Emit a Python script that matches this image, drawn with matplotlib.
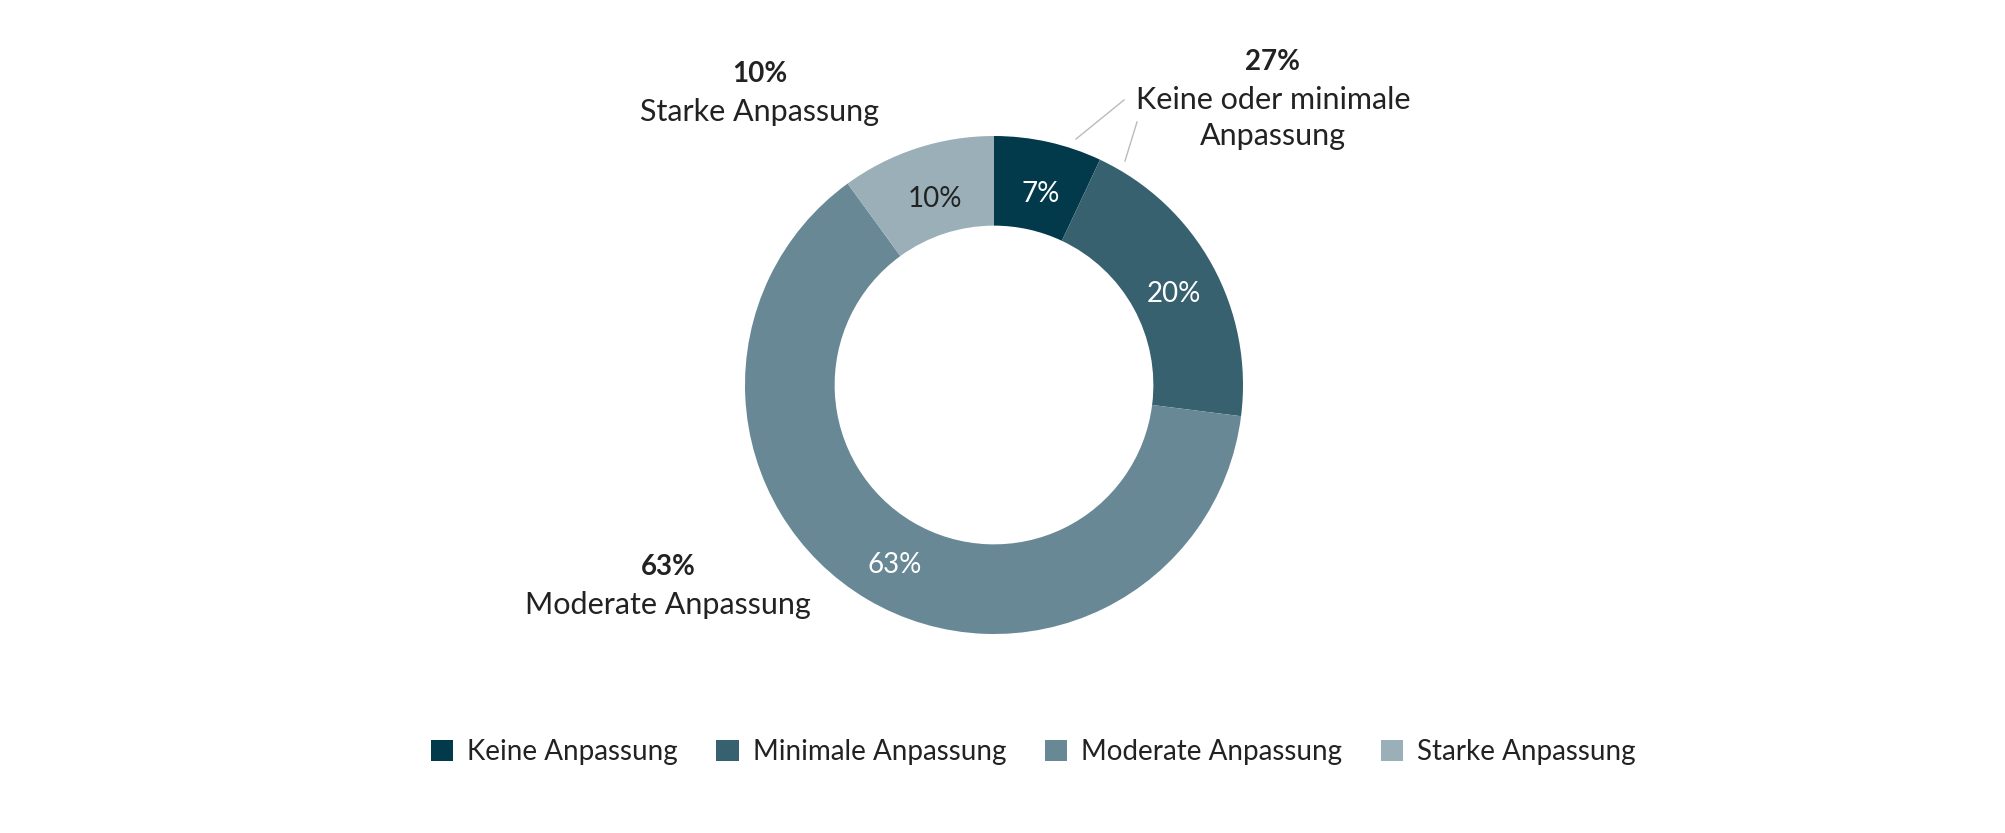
import matplotlib
matplotlib.use("Agg")
import matplotlib.pyplot as plt
from matplotlib.patches import Patch

# data
categories = ["Keine Anpassung", "Minimale Anpassung", "Moderate Anpassung", "Starke Anpassung"]
values = [7, 20, 63, 10]
colors = ["#023a4c", "#37616f", "#678894", "#9aafb7"]
pct_colors = ["white", "white", "white", "#222222"]

# grouped callouts outside the ring
callouts = [
    ("27%", "Keine oder minimale\nAnpassung"),
    ("10%", "Starke Anpassung"),
    ("63%", "Moderate Anpassung"),
]

W, H = 2006, 833
plt.rcParams['font.family'] = ['Lato', 'DejaVu Sans']

fig = plt.figure(figsize=(W / 100, H / 100), dpi=100)
ax = fig.add_axes([0, 0, 1, 1])

cx, cy, R = 994, H - 385, 249
wedges, texts, autotexts = ax.pie(
    values, colors=colors, startangle=90, counterclock=False,
    center=(cx, cy), radius=R, frame=True,
    wedgeprops=dict(width=R * 0.36, linewidth=0),
    autopct=lambda p: f"{p:.0f}%", pctdistance=0.81,
    textprops=dict(fontsize=20),
)
for t, c in zip(autotexts, pct_colors):
    t.set_color(c)
    x, y = t.get_position()
    t.set_position((x + 3, y - 6))
ax.set_xlim(0, W)
ax.set_ylim(0, H)
ax.set_aspect("equal")
ax.axis("off")

# callout labels (position in pixel coords, y from top)
callout_pos = [(1273, 62), (760, 74), (668, 567)]
for (pct, name), (x, y) in zip(callouts, callout_pos):
    ax.text(x, H - y, pct, ha="center", va="center", fontsize=20,
            fontweight="bold", color="#222222")
    ax.text(x, H - y - 24, name, ha="center", va="top", fontsize=22,
            color="#222222", linespacing=1.35)

# leader lines for the 27% callout
ax.plot([1076, 1124], [H - 139, H - 100], color="#bbbbbb", lw=1)
ax.plot([1125, 1137], [H - 161, H - 122], color="#bbbbbb", lw=1)

handles = [Patch(facecolor=c, edgecolor="none") for c in colors]
fig.legend(handles, categories, loc="center", bbox_to_anchor=(0.515, 1 - 752 / H),
           ncol=4, frameon=False, handlelength=0.8, handleheight=0.8,
           handletextpad=0.5, columnspacing=1.4, prop=dict(size=20),
           labelcolor="#222222")

fig.savefig("out.png", dpi=100, facecolor="white")
